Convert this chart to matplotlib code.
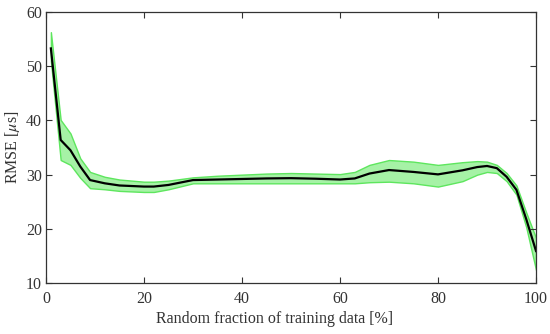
import matplotlib
matplotlib.use("Agg")
import matplotlib.pyplot as plt

x = [1, 3, 5, 7, 9, 12, 15, 20, 22, 25, 30, 35, 40, 45, 50, 55, 60, 63, 66, 70, 75, 80, 85, 88, 90, 92, 94, 96, 98, 100]
mean = [53.3, 36.4, 34.5, 31.5, 29.0, 28.4, 28.0, 27.8, 27.8, 28.1, 29.0, 29.1, 29.2, 29.3, 29.35, 29.25, 29.1, 29.3, 30.2, 30.85, 30.5, 30.05, 30.8, 31.4, 31.6, 31.2, 29.6, 27.2, 21.8, 15.9]
upper = [56.3, 40.1, 37.6, 33.0, 30.5, 29.6, 29.1, 28.7, 28.7, 28.9, 29.5, 29.8, 30.0, 30.2, 30.3, 30.2, 30.1, 30.5, 31.8, 32.7, 32.4, 31.8, 32.3, 32.5, 32.4, 31.8, 30.3, 28.0, 23.0, 18.3]
lower = [51.0, 32.7, 31.8, 29.4, 27.5, 27.3, 27.0, 26.8, 26.8, 27.3, 28.4, 28.4, 28.4, 28.4, 28.4, 28.4, 28.4, 28.4, 28.6, 28.7, 28.4, 27.8, 28.8, 30.0, 30.5, 30.3, 28.8, 26.3, 20.3, 12.4]
xticks = [0, 20, 40, 60, 80, 100]
yticks = [10, 20, 30, 40, 50, 60]

plt.rcParams['font.family'] = ['Liberation Serif', 'DejaVu Serif']
plt.rcParams['mathtext.fontset'] = 'stix'

fig = plt.figure(figsize=(5.5, 3.34), dpi=100)
ax = fig.add_axes([0.0836, 0.1527, 0.891, 0.811])
ax.fill_between(x, lower, upper, facecolor='#a6f2a6', edgecolor='#5ee65e', linewidth=1.0)
ax.plot(x, mean, color='black', linewidth=1.6)
ax.set_xlim(0, 100)
ax.set_ylim(10, 60)
ax.set_xticks(xticks)
ax.set_yticks(yticks)
ax.tick_params(direction='in', top=True, right=True, length=4, width=0.8, color='#333333', labelsize=11.5, labelcolor='#333333')
ax.tick_params(axis='y', pad=3)
ax.tick_params(axis='x', pad=6)
for s in ax.spines.values():
    s.set_color('#333333')
    s.set_linewidth(0.9)
ax.set_xlabel('Random fraction of training data [%]', fontsize=11.5, color='#333333')
ax.xaxis.set_label_coords(0.467, -0.105)
ax.set_ylabel(r'RMSE [$\mu$s]', fontsize=11.5, color='#333333', labelpad=3)
fig.savefig('out.png', dpi=100)
